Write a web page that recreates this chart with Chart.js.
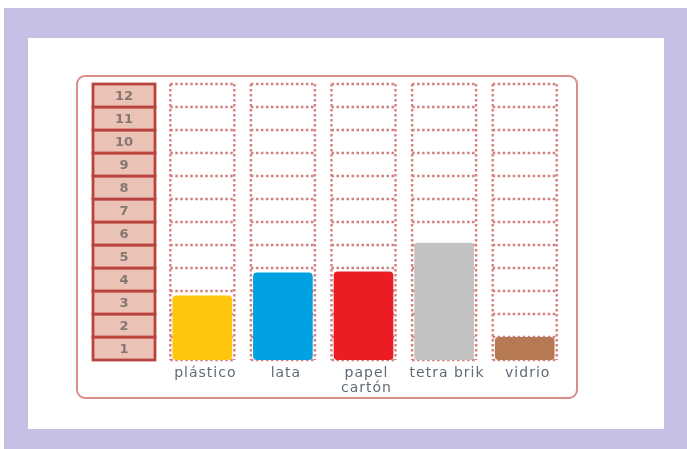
<!DOCTYPE html>
<html>
<head>
<meta charset="utf-8">
<script src="https://cdn.jsdelivr.net/npm/chart.js@4"></script>
<style>
  html, body { margin: 0; padding: 0; background: #fff; }
  canvas { display: block; }
</style>
</head>
<body>
<canvas class="js-graph" width="687" height="449"></canvas>
<script>
{
    // data
    const categories = [['plástico'], ['lata'], ['papel', 'cartón'], ['tetra brik'], ['vidrio']];
    const amounts = [2.8, 3.8, 3.85, 5.1, 1.0];
    const bar_colors = ['#ffc70b', '#00a1e1', '#ec1c25', '#c2c2c2', '#b57953'];
    const tick_labels = ['1', '2', '3', '4', '5', '6', '7', '8', '9', '10', '11', '12'];

    const frame_plugin = {
        id: 'frame',
        beforeDraw: (chart) => {
            const ctx = chart.ctx;
            ctx.save();
            // lavender mat + white card
            ctx.fillStyle = '#ffffff';
            ctx.fillRect(0, 0, 687, 449);
            ctx.fillStyle = '#c7bfe5';
            ctx.fillRect(4, 8, 683, 441);
            ctx.fillStyle = '#ffffff';
            ctx.fillRect(28, 38, 636, 391);

            // rounded outline
            ctx.strokeStyle = '#d98e8a';
            ctx.lineWidth = 2;
            ctx.beginPath();
            ctx.roundRect(77, 76, 500, 322, 8);
            ctx.stroke();

            const x = chart.scales.x;
            const y = chart.scales.y;

            // number ladder on the left
            tick_labels.forEach((label, i) => {
                const top = y.getPixelForValue(i + 1);
                const bottom = y.getPixelForValue(i);
                ctx.fillStyle = '#ebc2b6';
                ctx.fillRect(93, top, 62, bottom - top);
                ctx.strokeStyle = '#b9443f';
                ctx.lineWidth = 2.8;
                ctx.strokeRect(93, top, 62, bottom - top);
                ctx.fillStyle = '#857672';
                ctx.font = 'bold 13px "DejaVu Sans"';
                ctx.textAlign = 'center';
                ctx.textBaseline = 'middle';
                ctx.fillText(label, 124, (top + bottom) / 2 + 1);
            });

            // dotted columns of boxes
            ctx.strokeStyle = 'rgba(196, 86, 84, 0.75)';
            ctx.lineWidth = 2.4;
            ctx.setLineDash([2.5, 2.5]);
            categories.forEach((c, i) => {
                const cx = x.getPixelForValue(i);
                const left = cx - 32;
                const right = cx + 32;
                const top = y.getPixelForValue(12);
                const bottom = y.getPixelForValue(0);
                ctx.beginPath();
                ctx.moveTo(left, top);
                ctx.lineTo(left, bottom);
                ctx.moveTo(right, top);
                ctx.lineTo(right, bottom);
                for (let v = 0; v <= 12; v++) {
                    const py = y.getPixelForValue(v);
                    ctx.moveTo(left, py);
                    ctx.lineTo(right, py);
                }
                ctx.stroke();
            });
            ctx.setLineDash([]);

            // category names
            ctx.fillStyle = '#5f6b76';
            ctx.font = '14px "DejaVu Sans"';
            ctx.letterSpacing = '1px';
            ctx.textAlign = 'center';
            ctx.textBaseline = 'middle';
            categories.forEach((lines, i) => {
                const cx = x.getPixelForValue(i);
                lines.forEach((line, j) => {
                    ctx.fillText(line, cx + 3, 373 + j * 15);
                });
            });
            ctx.restore();
        }
    };

    const ctx = document.querySelector('.js-graph').getContext('2d');
    const chart = new Chart(ctx, {
        type: 'bar',
        data: {
            labels: categories,
            datasets: [{
                data: amounts,
                backgroundColor: bar_colors,
                borderWidth: 0,
                borderRadius: 4,
                borderSkipped: false,
                barPercentage: 0.74,
                categoryPercentage: 1,
            }]
        },
        options: {
            responsive: false,
            animation: false,
            devicePixelRatio: 1,
            layout: {
                padding: { left: 162, right: 122, top: 84, bottom: 89 }
            },
            scales: {
                x: { display: false },
                y: { display: false, min: 0, max: 12 }
            },
            plugins: {
                legend: { display: false },
                tooltip: { enabled: false }
            }
        },
        plugins: [frame_plugin]
    });
}
</script>
</body>
</html>
